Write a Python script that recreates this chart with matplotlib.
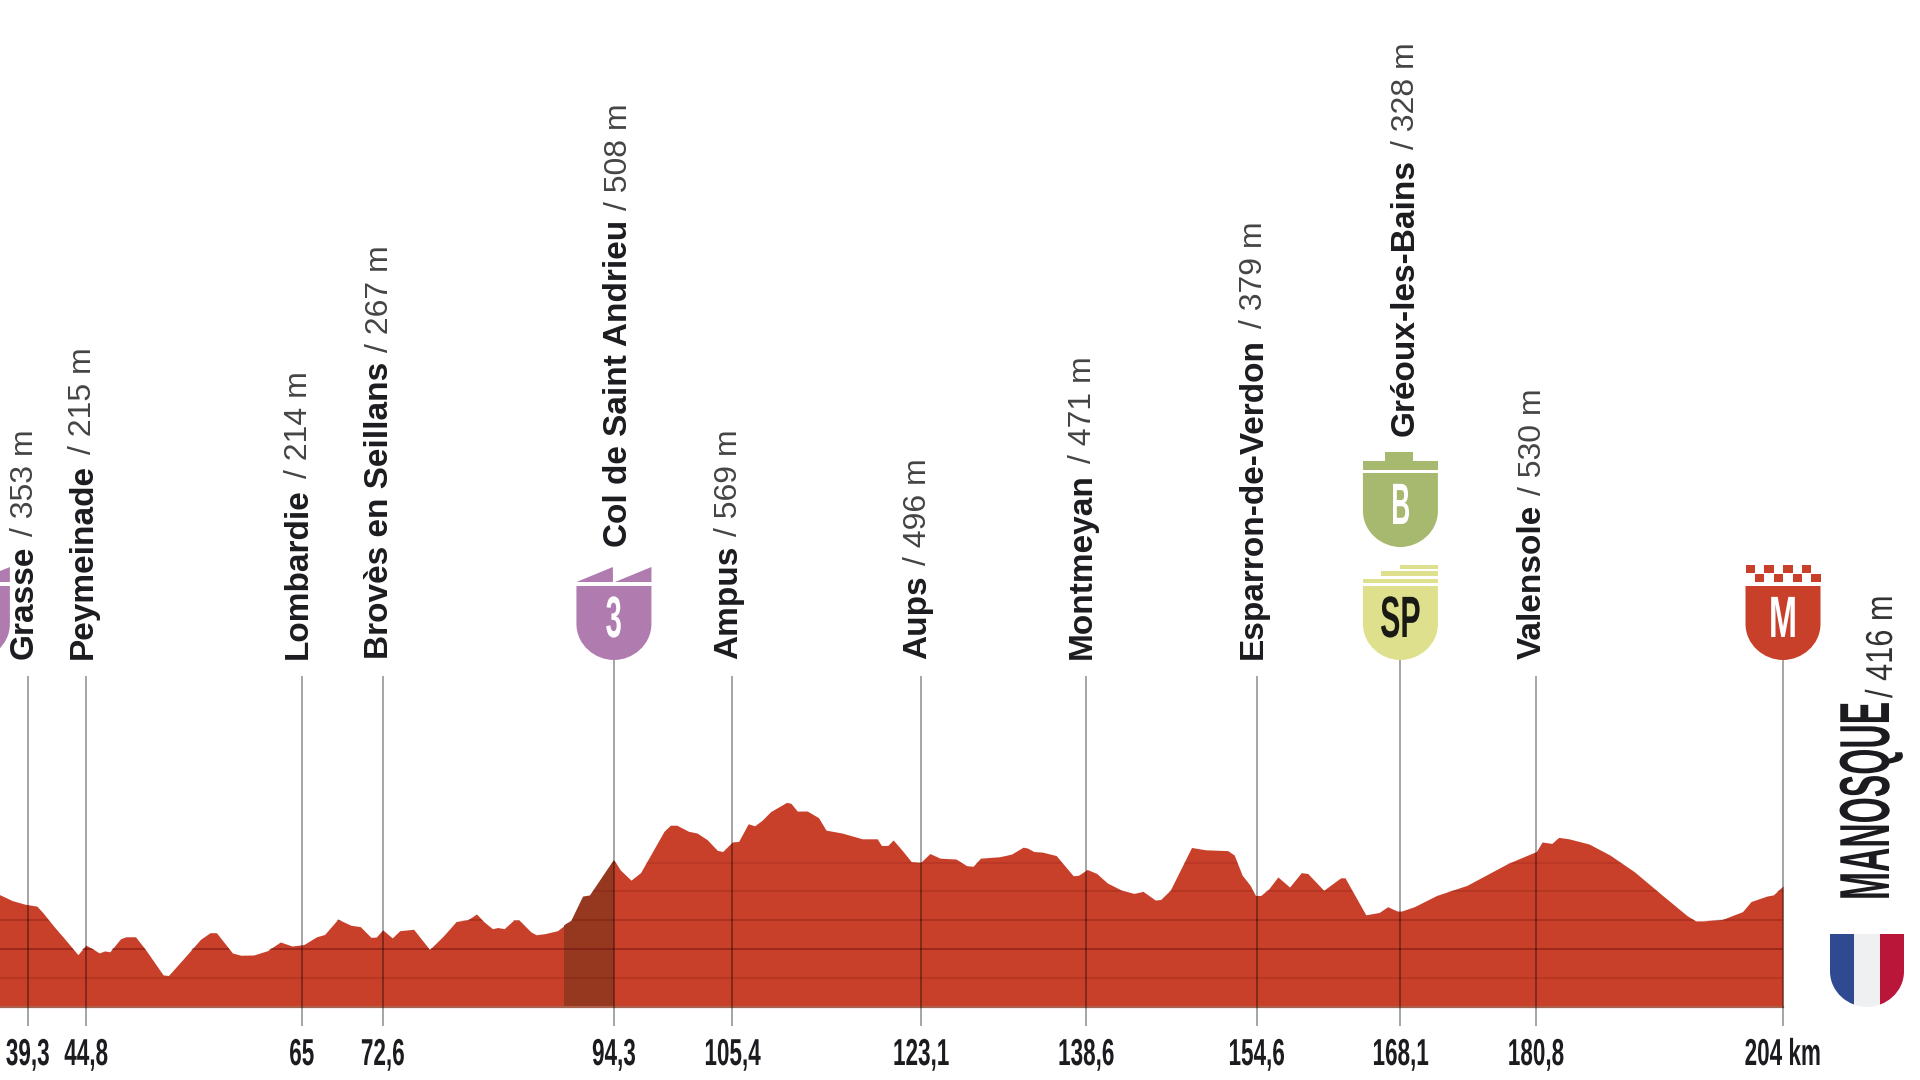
import matplotlib
matplotlib.use("Agg")
import matplotlib.pyplot as plt
from matplotlib.path import Path
from matplotlib.patches import PathPatch, Polygon, Rectangle
from matplotlib.patheffects import AbstractPathEffect
from matplotlib.transforms import Affine2D

# profile, km / elevation in m
km = [34.0, 36.7, 37.85, 39.0, 40.15, 40.7, 41.7, 42.8, 44.0, 44.75, 45.4, 46.0, 46.5, 47.0, 48.0, 48.5, 49.4, 50.3,
      52.0, 52.5, 54.1, 55.5, 56.4, 57.0, 58.5, 59.3, 60.5, 61.8, 63.0, 64.1, 65.2, 66.4, 67.15, 68.4, 69.6, 70.5,
      71.5, 72.0, 72.6, 73.5, 74.2, 75.5, 77.0, 78.3, 79.5, 80.6, 81.4, 82.1, 82.9, 83.4, 84.0, 84.9, 85.4, 86.5,
      87.0, 87.85, 89.0, 89.8, 90.3, 91.4, 92.05, 94.3, 94.9, 95.9, 96.8, 99.0, 99.6, 100.2, 101.3, 102.1, 103.05,
      104.0, 104.5, 105.4, 106.0, 106.9, 107.5, 108.2, 109.0, 110.5, 110.9, 111.5, 112.45, 113.5, 114.2, 115.7,
      117.6, 119.0, 119.4, 120.0, 120.5, 121.3, 122.2, 123.1, 123.95, 124.9, 126.4, 127.4, 128.0, 128.7, 130.5,
      131.6, 132.7, 133.1, 133.7, 134.5, 135.8, 136.8, 137.4, 137.9, 138.7, 139.6, 140.6, 141.95, 143.1, 143.95,
      145.1, 145.6, 146.5, 148.5, 149.8, 151.9, 152.5, 153.25, 154.0, 154.5, 155.0, 155.75, 156.6, 157.7, 158.8,
      159.4, 160.9, 162.5, 162.9, 164.85, 166.1, 166.9, 167.8, 168.2, 169.4, 171.5, 174.35, 178.2, 180.85, 181.4,
      182.3, 182.95, 183.9, 185.8, 187.75, 190.05, 192.7, 195.0, 195.8, 196.55, 198.3, 200.2, 201.0, 202.5, 203.1,
      204.0]
elev = [420, 388, 368, 356, 349, 327, 281, 234, 181, 214, 201, 187, 194, 191, 236, 243, 243, 201,
        111, 109, 175, 234, 257, 257, 187, 179, 180, 195, 225, 211, 216, 243, 251, 304, 283, 278,
        241, 242, 267, 239, 264, 269, 199, 246, 296, 302, 322, 295, 271, 275, 271, 301, 301, 260,
        250, 254, 264, 287, 298, 382, 386, 509, 474, 439, 465, 608, 629, 629, 608, 602, 579,
        542, 538, 571, 573, 634, 627, 646, 676, 708, 705, 678, 678, 655, 612, 602,
        582, 582, 559, 559, 578, 544, 503, 501, 531, 515, 512, 489, 487, 515, 520,
        529, 553, 550, 538, 536, 524, 480, 454, 456, 476, 462, 429, 404, 393, 400,
        370, 372, 404, 552, 544, 541, 526, 456, 421, 386, 386, 409, 450, 415, 465,
        462, 404, 447, 447, 319, 327, 347, 332, 332, 347, 386, 421, 497, 538, 571,
        566, 587, 582, 564, 526, 468, 386, 316, 298, 298, 303, 330, 365, 384, 388,
        419]

grid_levels = [100, 200, 300, 400, 500]
grid_alpha = [0.2, 0.5, 0.3, 0.22, 0.16]
climb_start = 89.6
climb_end = 94.3

place_km = [39.3, 44.8, 65, 72.6, 94.3, 105.4, 123.1, 138.6, 154.6, 168.1, 180.8, 204]
km_labels = ["39,3", "44,8", "65", "72,6", "94,3", "105,4", "123,1", "138,6", "154,6", "168,1", "180,8", "204 km"]

label_km = [39.3, 44.8, 65, 72.6, 94.3, 105.4, 123.1, 138.6, 154.6, 168.1, 180.8]
label_names = ["Grasse", "Peymeinade", "Lombardie", "Brovès en Seillans", "Col de Saint Andrieu", "Ampus", "Aups",
               "Montmeyan", "Esparron-de-Verdon", "Gréoux-les-Bains", "Valensole"]
label_values = ["/ 353 m", "/ 215 m", "/ 214 m", "/ 267 m", "/ 508 m", "/ 569 m", "/ 496 m",
                "/ 471 m", "/ 379 m", "/ 328 m", "/ 530 m"]

RED = "#c8402a"
INK = "#1c1c20"
FIG_H = 1080
BASE_Y = 1007          # pixel row of 0 m
PX_KM = 10.657
PX_M = 0.289
KM0 = 39.3 - 27.8 / PX_KM


class Squeeze(AbstractPathEffect):
    # narrows a text along its own direction, the font is not condensed enough
    def __init__(self, sx, anchor="center"):
        super().__init__()
        self.sx = sx
        self.anchor = anchor

    def draw_path(self, renderer, gc, tpath, affine, rgbFace=None):
        ext = tpath.get_extents()
        cx = (ext.x0 + ext.x1) / 2 if self.anchor == "center" else 0
        squeeze = Affine2D().translate(-cx, 0).scale(self.sx, 1).translate(cx, 0)
        renderer.draw_path(gc, tpath, squeeze + affine, rgbFace)


NARROW = ["Liberation Sans Narrow", "Liberation Sans"]
SANS = ["Liberation Sans", "DejaVu Sans"]

fig = plt.figure(figsize=(19.2, 10.8), dpi=100, facecolor="white")
ax = fig.add_axes([0, 0, 1, 1])
ax.set_xlim(KM0, KM0 + 1920 / PX_KM)
ax.set_ylim(-(FIG_H - BASE_Y) / PX_M, BASE_Y / PX_M)
ax.axis("off")

# profile
poly = ax.fill_between(km, elev, 0, color=RED, lw=0, zorder=2)
clip = poly.get_paths()[0]
span = ax.axvspan(climb_start, climb_end, color="#963720", lw=0, zorder=3)
span.set_clip_path(clip, ax.transData)
for lev, al in zip(grid_levels, grid_alpha):
    ln, = ax.plot([km[0], km[-1]], [lev, lev], color="#6a0f08", alpha=al, lw=1.3, zorder=4)
    ln.set_clip_path(clip, ax.transData)
ax.plot([km[0], km[-1]], [0, 0], color="#a9604c", lw=1.6, zorder=4)


def to_px(k):
    return ax.transData.transform((k, 0))[0]


def shield_path(w=75, h=74):
    r = w / 2
    verts = [(-r, h), (r, h), (r, h * 0.49), (r, h * 0.2), (r * 0.5, 0), (0, 0),
             (-r * 0.5, 0), (-r, h * 0.2), (-r, h * 0.49), (-r, h)]
    codes = [Path.MOVETO, Path.LINETO, Path.LINETO, Path.CURVE4, Path.CURVE4, Path.CURVE4,
             Path.CURVE4, Path.CURVE4, Path.CURVE4, Path.CLOSEPOLY]
    return Path(verts, codes)


def shield(k, bottom, color, letter=None, letter_color="white", crown=None, squeeze=0.6):
    px = to_px(k)
    tr = Affine2D().translate(px, FIG_H - bottom)
    ax.add_patch(PathPatch(shield_path(), fc=color, lw=0, transform=tr, zorder=6))
    if crown == "climb":
        ax.add_patch(Polygon([(-37.5, 78), (-1, 93), (-1, 78)], fc=color, lw=0, transform=tr, zorder=6))
        ax.add_patch(Polygon([(1, 78), (37.5, 93), (37.5, 78)], fc=color, lw=0, transform=tr, zorder=6))
    elif crown == "bonus":
        ax.add_patch(Rectangle((-37.5, 77), 75, 9, fc=color, lw=0, transform=tr, zorder=6))
        ax.add_patch(Rectangle((-15, 86), 28, 9, fc=color, lw=0, transform=tr, zorder=6))
    elif crown == "sprint":
        for x0, y0, hh in [(-37.5, 77, 4), (-19, 84, 5), (0, 91, 4)]:
            ax.add_patch(Rectangle((x0, y0), 37.5 - x0, hh, fc=color, lw=0, transform=tr, zorder=6))
    elif crown == "finish":
        for i in range(8):
            y0 = 87 if i % 2 == 0 else 78
            ax.add_patch(Rectangle((-37.5 + i * 9.4, y0), 9.4, 8.5, fc=color, lw=0, transform=tr, zorder=6))
    if letter:
        ax.text(px, FIG_H - bottom + 38, letter, transform=Affine2D(), family=NARROW, weight="bold", fontsize=42,
                color=letter_color, ha="center", va="center", zorder=7, path_effects=[Squeeze(squeeze)])


# station lines and km labels
bottoms = {94.3: 660, 168.1: 660, 204: 660}
for k, lab in zip(place_km, km_labels):
    top = (BASE_Y - bottoms.get(k, 676)) / PX_M
    ax.plot([k, k], [-66, top], color="black", alpha=0.38, lw=1.3, zorder=5, solid_capstyle="butt")
    ax.text(k, (BASE_Y - 1055) / PX_M, lab, family=NARROW, weight="bold", fontsize=27, color=INK,
            ha="center", va="center", path_effects=[Squeeze(0.6)])

# place names, bold name then the altitude
renderer = fig.canvas.get_renderer()
shifted = {94.3: 547, 168.1: 436}
for k, name, val in zip(label_km, label_names, label_values):
    off = 13.5 if k in shifted else 5
    y0 = (BASE_Y - shifted.get(k, 659)) / PX_M
    x = k + off / PX_KM
    t = ax.text(x, y0, name, family=SANS, weight="bold", fontsize=24, color=INK, rotation=90,
                rotation_mode="anchor", ha="left", va="baseline", zorder=6)
    h = t.get_window_extent(renderer).height
    ax.text(x, y0 + (h + 10) / PX_M, val, family=SANS, fontsize=23, color="#444444", rotation=90,
            rotation_mode="anchor", ha="left", va="baseline", zorder=6)

# climb / bonus / sprint / finish badges
shield(34.1, 660, "#b07cb0", crown="climb")
shield(94.3, 660, "#b07cb0", "3", crown="climb", squeeze=0.5)
shield(168.1, 547, "#a6b96f", "B", crown="bonus", squeeze=0.45)
shield(168.1, 660, "#dfe08e", "SP", letter_color="#1a1a14", crown="sprint", squeeze=0.52)
shield(204, 660, RED, "M", crown="finish", squeeze=0.58)

# finish town
town_x = 1889
ax.text(town_x, FIG_H - 900, "MANOSQUE", transform=Affine2D(), family=NARROW, weight="bold", fontsize=51, color=INK,
        rotation=90, rotation_mode="anchor", ha="left", va="baseline", path_effects=[Squeeze(0.475, "start")])
ax.text(town_x + 3, FIG_H - 698, "/ 416 m", transform=Affine2D(), family=NARROW, fontsize=27, color="#333333",
        rotation=90, rotation_mode="anchor", ha="left", va="baseline", path_effects=[Squeeze(0.82, "start")])

# flag
flag_tr = Affine2D().translate(1867, FIG_H - 1007)
outline = PathPatch(shield_path(74, 73), fc="none", lw=0, transform=flag_tr)
ax.add_patch(outline)
for x0, w, c in [(-37, 24, "#2f4a90"), (-13, 26, "#eef0f1"), (13, 24, "#b9163a")]:
    stripe = Rectangle((x0, 0), w, 73, fc=c, lw=0, transform=flag_tr, zorder=6)
    ax.add_patch(stripe)
    stripe.set_clip_path(outline)

fig.savefig("out.png", dpi=100, facecolor="white")
